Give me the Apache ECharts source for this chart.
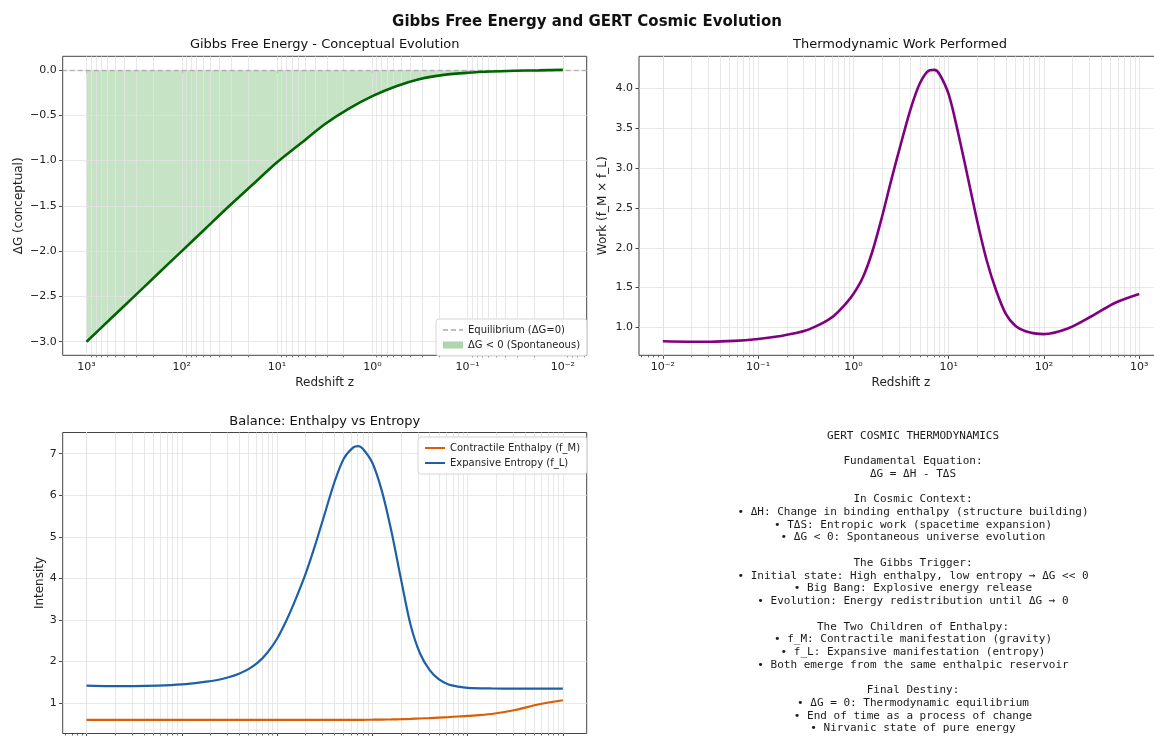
<!DOCTYPE html>
<html>
<head>
<meta charset="utf-8">
<script src="https://cdn.jsdelivr.net/npm/echarts@6/dist/echarts.min.js"></script>
<style>
  html, body { margin: 0; padding: 0; background: #ffffff; }
  #chart { width: 1154px; height: 736px; }
</style>
</head>
<body>
<div id="chart"></div>
<script>
// ---- Gibbs free energy along redshift (early universe on the left) ----
const zGibbs = [1000, 562, 316, 178, 100, 56.2, 31.6, 17.8, 10, 5.62, 3.16, 1.78, 1,
                0.562, 0.316, 0.178, 0.1, 0.0562, 0.0316, 0.0178, 0.01];
const deltaG = [-3.00, -2.75, -2.50, -2.25, -2.00, -1.75, -1.50, -1.26, -1.02, -0.81, -0.60, -0.43, -0.29,
                -0.18, -0.10, -0.055, -0.032, -0.018, -0.010, -0.005, 0.0];

// ---- shared redshift samples for the work and balance panels ----
const zCosmic = [0.01, 0.0178, 0.0316, 0.0562, 0.1, 0.158, 0.251, 0.316, 0.398, 0.501, 0.631, 0.794,
                 1, 1.26, 1.58, 2.0, 2.51, 3.16, 3.98, 5.01, 6.31, 7.08, 7.94, 10, 12.6, 15.8, 20.0,
                 25.1, 31.6, 39.8, 50.1, 63.1, 79.4, 100, 178, 316, 562, 1000];
const work = [0.825, 0.82, 0.82, 0.83, 0.855, 0.885, 0.93, 0.96, 1.01, 1.07, 1.15, 1.27,
              1.42, 1.63, 1.95, 2.39, 2.86, 3.31, 3.74, 4.07, 4.23, 4.235, 4.19, 3.93, 3.44, 2.90, 2.33,
              1.84, 1.46, 1.17, 1.02, 0.955, 0.925, 0.915, 0.985, 1.14, 1.31, 1.42];
const fM = [0.60, 0.60, 0.60, 0.60, 0.60, 0.60, 0.60, 0.60, 0.60, 0.60, 0.60, 0.60,
            0.60, 0.60, 0.60, 0.60, 0.60, 0.60, 0.60, 0.60, 0.60, 0.60, 0.601, 0.603, 0.606, 0.61, 0.615,
            0.622, 0.632, 0.643, 0.655, 0.667, 0.68, 0.693, 0.74, 0.835, 0.975, 1.07];
const fL = [1.42, 1.41, 1.41, 1.42, 1.45, 1.50, 1.57, 1.63, 1.71, 1.82, 1.98, 2.22,
            2.55, 3.00, 3.52, 4.12, 4.80, 5.55, 6.30, 6.88, 7.15, 7.18, 7.12, 6.78, 6.10, 5.15, 3.98,
            2.90, 2.20, 1.80, 1.57, 1.45, 1.40, 1.37, 1.355, 1.35, 1.35, 1.35];

// ---- tick labels ----
const redshiftTicks = [0.01, 0.1, 1, 10, 100, 1000];
const gibbsTicks = [0.0, -0.5, -1.0, -1.5, -2.0, -2.5, -3.0];
const workTicks = [1.0, 1.5, 2.0, 2.5, 3.0, 3.5, 4.0];
const intensityTicks = [1, 2, 3, 4, 5, 6, 7];

// ---- summary text ----
const infoLines = [
  'GERT COSMIC THERMODYNAMICS',
  '',
  'Fundamental Equation:',
  'ΔG = ΔH - TΔS',
  '',
  'In Cosmic Context:',
  '• ΔH: Change in binding enthalpy (structure building)',
  '• TΔS: Entropic work (spacetime expansion)',
  '• ΔG < 0: Spontaneous universe evolution',
  '',
  'The Gibbs Trigger:',
  '• Initial state: High enthalpy, low entropy → ΔG << 0',
  '• Big Bang: Explosive energy release',
  '• Evolution: Energy redistribution until ΔG → 0',
  '',
  'The Two Children of Enthalpy:',
  '• f_M: Contractile manifestation (gravity)',
  '• f_L: Expansive manifestation (entropy)',
  '• Both emerge from the same enthalpic reservoir',
  '',
  'Final Destiny:',
  '• ΔG = 0: Thermodynamic equilibrium',
  '• End of time as a process of change',
  '• Nirvanic state of pure energy'
];

// ---------------------------------------------------------------
const FONT = 'DejaVu Sans';
const TXT = '#222222';
const GRIDLINE = '#e2e2e2';
const FRAME = '#444444';

const pairs = (xs, ys) => xs.map((x, i) => [x, ys[i]]);

// log-axis range padded by 5% of the span (in decades)
function logRange(zs) {
  const lo = Math.log10(Math.min(...zs)), hi = Math.log10(Math.max(...zs));
  const pad = 0.05 * (hi - lo);
  return [Math.pow(10, lo - pad), Math.pow(10, hi + pad)];
}
// linear range padded by 5%
function linRange(arrs) {
  const all = [].concat(...arrs);
  const lo = Math.min(...all), hi = Math.max(...all);
  const pad = 0.05 * (hi - lo);
  return [lo - pad, hi + pad];
}
// minor decade positions 2..9 x 10^n inside a range
function minorDecades(range) {
  const out = [];
  for (let e = -4; e <= 4; e++) {
    for (let k = 2; k <= 9; k++) {
      const v = k * Math.pow(10, e);
      if (v > range[0] && v < range[1]) out.push(v);
    }
  }
  return out;
}

const SUP = { '-': '⁻', '0': '⁰', '1': '¹', '2': '²', '3': '³', '4': '⁴', '5': '⁵', '6': '⁶', '7': '⁷', '8': '⁸', '9': '⁹' };
const powerLabel = v => '10' + String(Math.round(Math.log10(v))).split('').map(c => SUP[c]).join('');
const minusFmt = v => (v < 0 ? '−' : '') + Math.abs(v).toFixed(1);

const xR0 = logRange(zGibbs);
const xR1 = logRange(zCosmic);
const xR2 = logRange(zCosmic);
const yR0 = linRange([deltaG, [0]]);
const yR1 = linRange([work]);
const yR2 = linRange([fM, fL]);

const grids = [
  { left: 62.7, top: 56.3, width: 524, height: 299 },
  { left: 639, top: 56.3, width: 524, height: 299 },
  { left: 62.7, top: 432.5, width: 524, height: 301 }
].map(g => Object.assign(g, {
  show: true, borderColor: FRAME, borderWidth: 1, backgroundColor: 'transparent',
  containLabel: false, outerBoundsMode: 'none'
}));

function mainX(gridIndex, range, inverse) {
  return {
    type: 'log', logBase: 10, gridIndex, min: range[0], max: range[1], inverse,
    position: 'bottom',
    name: 'Redshift z', nameLocation: 'middle', nameGap: 22,
    nameTextStyle: { fontFamily: FONT, fontSize: 12, color: TXT },
    axisLine: { show: false },
    axisTick: { show: true, customValues: redshiftTicks, length: 3.5, lineStyle: { color: FRAME, width: 1 } },
    axisLabel: { show: true, customValues: redshiftTicks, formatter: powerLabel, margin: 6,
                 fontFamily: FONT, fontSize: 11, color: TXT },
    splitLine: { show: false }, minorTick: { show: false }
  };
}
function minorX(gridIndex, range, inverse) {
  return {
    type: 'log', logBase: 10, gridIndex, min: range[0], max: range[1], inverse,
    position: 'bottom', offset: 0,
    axisLine: { show: false },
    axisTick: { show: true, customValues: minorDecades(range), length: 2, lineStyle: { color: FRAME, width: 0.8 } },
    axisLabel: { show: false }, splitLine: { show: false }
  };
}
function valueY(gridIndex, range, ticks, fmt, name, nameGap) {
  return {
    type: 'value', gridIndex, min: range[0], max: range[1],
    name, nameLocation: 'middle', nameGap, nameRotate: 90,
    nameTextStyle: { fontFamily: FONT, fontSize: 12, color: TXT },
    axisLine: { show: false },
    axisTick: { show: true, customValues: ticks, length: 3.5, lineStyle: { color: FRAME, width: 1 } },
    axisLabel: { show: true, customValues: ticks, formatter: fmt, margin: 6,
                 fontFamily: FONT, fontSize: 11, color: TXT },
    splitLine: { show: false }
  };
}

// light grid lines, major and minor decades plus value ticks
function gridLines(idx, xRange, yTicks) {
  const xs = redshiftTicks.concat(minorDecades(xRange));
  return {
    type: 'line', xAxisIndex: idx, yAxisIndex: idx, data: [], z: 1, silent: true,
    markLine: {
      silent: true, symbol: ['none', 'none'], label: { show: false }, animation: false,
      lineStyle: { color: GRIDLINE, width: 0.8, type: 'solid' },
      emphasis: { disabled: true },
      data: xs.map(v => ({ xAxis: v })).concat(yTicks.map(v => ({ yAxis: v })))
    }
  };
}

const legendBase = {
  orient: 'vertical', padding: [5, 7, 5, 6], itemGap: 3, itemWidth: 20, itemHeight: 7,
  backgroundColor: 'rgba(255,255,255,0.85)', borderColor: '#d6d6d6', borderWidth: 1, borderRadius: 3,
  textStyle: { fontFamily: FONT, fontSize: 10, color: TXT, lineHeight: 12 },
  itemStyle: { opacity: 0 },
  selectedMode: false, z: 10
};

const title = (text, x, y, size, weight) => ({
  type: 'text', x, y, silent: true,
  style: { text, x: 0, y: 0, align: 'center', verticalAlign: 'middle',
           fontFamily: FONT, fontSize: size, fontWeight: weight || 'normal', fill: '#111' }
});

const smoothLine = (extra) => Object.assign({
  type: 'line', smooth: 0.3, showSymbol: false, symbol: 'none', z: 5
}, extra);

const FILL = 'rgba(0,128,0,0.32)';
const EQ = 'rgba(128,128,128,0.5)';

const option = {
  animation: false,
  backgroundColor: '#ffffff',
  grid: grids,
  xAxis: [
    mainX(0, xR0, true), mainX(1, xR1, false), mainX(2, xR2, false),
    minorX(0, xR0, true), minorX(1, xR1, false), minorX(2, xR2, false)
  ],
  yAxis: [
    valueY(0, yR0, gibbsTicks, minusFmt, 'ΔG (conceptual)', 38),
    valueY(1, yR1, workTicks, v => v.toFixed(1), 'Work (f_M × f_L)', 30),
    valueY(2, yR2, intensityTicks, v => String(v), 'Intensity', 17)
  ],
  legend: [
    Object.assign({}, legendBase, {
      left: 436, top: 319,
      data: [
        { name: 'Equilibrium (ΔG=0)' },
        { name: 'ΔG < 0 (Spontaneous)', icon: 'rect', itemStyle: { color: FILL, opacity: 1 } }
      ]
    }),
    Object.assign({}, legendBase, {
      left: 418, top: 437,
      data: [{ name: 'Contractile Enthalpy (f_M)' }, { name: 'Expansive Entropy (f_L)' }]
    })
  ],
  series: [
    gridLines(0, xR0, gibbsTicks),
    gridLines(1, xR1, workTicks),
    gridLines(2, xR2, intensityTicks),
    smoothLine({
      name: 'ΔG < 0 (Spontaneous)', xAxisIndex: 0, yAxisIndex: 0, z: 2,
      data: pairs(zGibbs, deltaG),
      itemStyle: { color: FILL },
      lineStyle: { width: 0 },
      areaStyle: { color: FILL, origin: 'auto' }
    }),
    {
      name: 'Equilibrium (ΔG=0)', type: 'line', xAxisIndex: 0, yAxisIndex: 0, data: [], symbol: 'none', z: 4,
      itemStyle: { color: EQ },
      lineStyle: { color: EQ, type: [5, 3], width: 1.3 },
      markLine: {
        silent: true, symbol: ['none', 'none'], label: { show: false },
        lineStyle: { color: EQ, type: [5, 3], width: 1.3 },
        data: [{ yAxis: 0 }]
      }
    },
    smoothLine({
      name: 'ΔG', xAxisIndex: 0, yAxisIndex: 0, data: pairs(zGibbs, deltaG),
      lineStyle: { color: '#006400', width: 2.6 }, itemStyle: { color: '#006400' }
    }),
    smoothLine({
      name: 'Work', xAxisIndex: 1, yAxisIndex: 1, data: pairs(zCosmic, work),
      lineStyle: { color: '#800080', width: 2.6 }, itemStyle: { color: '#800080' }
    }),
    smoothLine({
      name: 'Contractile Enthalpy (f_M)', xAxisIndex: 2, yAxisIndex: 2, data: pairs(zCosmic, fM),
      lineStyle: { color: '#d95f02', width: 2.2 }, itemStyle: { color: '#d95f02' }
    }),
    smoothLine({
      name: 'Expansive Entropy (f_L)', xAxisIndex: 2, yAxisIndex: 2, data: pairs(zCosmic, fL),
      lineStyle: { color: '#1f5fa6', width: 2.2 }, itemStyle: { color: '#1f5fa6' }
    })
  ],
  graphic: [
    title('Gibbs Free Energy and GERT Cosmic Evolution', 587, 22, 15, 'bold'),
    title('Gibbs Free Energy - Conceptual Evolution', 324.7, 45, 13),
    title('Thermodynamic Work Performed', 900, 45, 13),
    title('Balance: Enthalpy vs Entropy', 324.7, 421.5, 13),
    {
      type: 'text', x: 913, y: 429.5, silent: true,
      style: {
        text: infoLines.join('\n'), x: 0, y: 0, align: 'center', verticalAlign: 'top',
        fontFamily: 'DejaVu Sans Mono', fontSize: 11, lineHeight: 12.72, fill: '#1a1a1a'
      }
    }
  ]
};

const chart = echarts.init(document.getElementById('chart'), null, { renderer: 'canvas' });
chart.setOption(option);
</script>
</body>
</html>
